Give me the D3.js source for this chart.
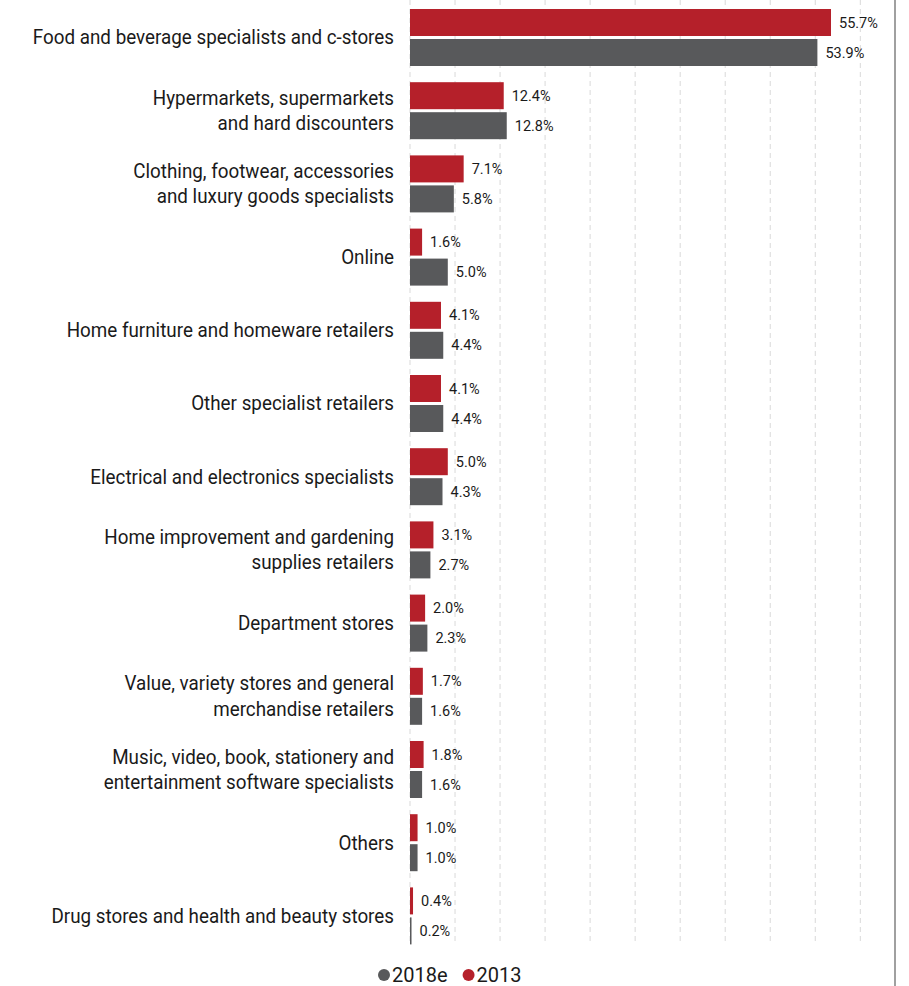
<!DOCTYPE html>
<html><head><meta charset="utf-8">
<script src="https://cdn.jsdelivr.net/npm/d3@7"></script>
<style>
body{margin:0;background:#fff;}
text{font-family:"Liberation Sans Narrow","Arial Narrow","Roboto",sans-serif;}
</style></head>
<body><svg id="c" width="909" height="986"></svg>
<script>
const categories = [
  ["Food and beverage specialists and c-stores"],
  ["Hypermarkets, supermarkets","and hard discounters"],
  ["Clothing, footwear, accessories","and luxury goods specialists"],
  ["Online"],
  ["Home furniture and homeware retailers"],
  ["Other specialist retailers"],
  ["Electrical and electronics specialists"],
  ["Home improvement and gardening","supplies retailers"],
  ["Department stores"],
  ["Value, variety stores and general","merchandise retailers"],
  ["Music, video, book, stationery and","entertainment software specialists"],
  ["Others"],
  ["Drug stores and health and beauty stores"]
];
const values2013  = [55.7,12.4,7.1,1.6,4.1,4.1,5.0,3.1,2.0,1.7,1.8,1.0,0.4];
const values2018e = [53.9,12.8,5.8,5.0,4.4,4.4,4.3,2.7,2.3,1.6,1.6,1.0,0.2];
const seriesNames = ["2013","2018e"];
const colors = {"2013":"#b5202a","2018e":"#58595b"};
const legendOrder = ["2018e","2013"];

const svg = d3.select("#c");
const x = d3.scaleLinear().domain([0,55.7]).range([410,831]);
const grid = d3.scaleLinear().domain([0,10]).range([410,860.3]);
const idx = d3.range(categories.length);
const y = d3.scaleBand().domain(idx).range([9,944.4]).paddingInner(0.2213).paddingOuter(0);
const ys = d3.scaleBand().domain(seriesNames).range([0,y.bandwidth()]).paddingInner(0.1);

// gridlines
svg.append("g").selectAll("line").data(grid.ticks(10)).join("line")
  .attr("x1",d=>grid(d)).attr("x2",d=>grid(d)).attr("y1",0).attr("y2",943)
  .attr("stroke","#d9d9d9").attr("stroke-width",1).attr("stroke-dasharray","5,4");

// right border
svg.append("line").attr("x1",895).attr("x2",895).attr("y1",0).attr("y2",986)
  .attr("stroke","#808080").attr("stroke-width",1.5);

const data = [];
idx.forEach(i=>{
  data.push({i, s:"2013", v:values2013[i]});
  data.push({i, s:"2018e", v:values2018e[i]});
});

svg.append("g").selectAll("rect").data(data).join("rect")
  .attr("x",x(0)).attr("y",d=>y(d.i)+ys(d.s))
  .attr("width",d=>x(d.v)-x(0)).attr("height",ys.bandwidth())
  .attr("fill",d=>colors[d.s]);

svg.append("g").selectAll("text").data(data).join("text")
  .attr("x",d=>x(d.v)+8).attr("y",d=>y(d.i)+ys(d.s)+ys.bandwidth()/2)
  .attr("dy","0.35em").attr("font-size",14.5).attr("fill","#1a1a1a")
  .text(d=>d.v.toFixed(1)+"%");

// category labels
const lab = svg.append("g").attr("transform","translate(394,0) scale(0.965,1)")
  .selectAll("text").data(idx).join("text")
  .attr("text-anchor","end").attr("font-size",19.5).attr("fill","#1a1a1a");
lab.each(function(i){
  const lines = categories[i];
  const cy = y(i)+y.bandwidth()/2;
  const lh = 25.5;
  const t = d3.select(this);
  lines.forEach((l,k)=>{
    t.append("tspan").attr("x",0)
     .attr("y",cy + (k-(lines.length-1)/2)*lh)
     .attr("dy","0.35em").text(l);
  });
});

// legend
const lg = svg.append("g");
let lx = 384;
legendOrder.forEach(s=>{
  lg.append("circle").attr("cx",lx).attr("cy",975).attr("r",6).attr("fill",colors[s]);
  const t = lg.append("text").attr("x",lx+8).attr("y",975).attr("dy","0.35em")
    .attr("font-size",20).attr("fill","#1a1a1a").text(s);
  lx += 8 + t.node().getComputedTextLength() + 21;
});
</script></body></html>
